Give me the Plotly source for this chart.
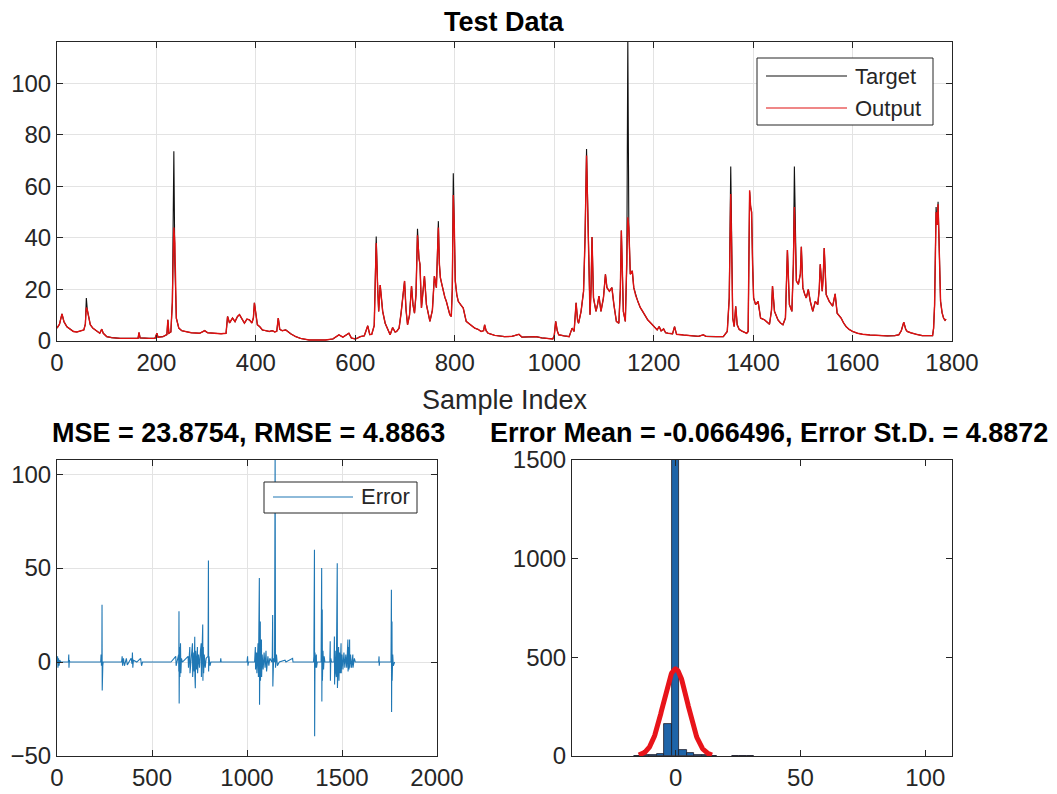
import numpy as np
import plotly.graph_objects as go

W, H = 1057, 794

# ---------------- test data: target vs network output ----------------
sample_idx = [
    0, 5, 10, 14, 20, 27, 33, 40, 47, 54,
    57, 59, 61, 63, 67, 72, 80, 86, 90, 93,
    100, 110, 127, 150, 163, 165, 167, 185, 197, 201,
    203, 213, 221, 223, 225, 229, 232, 235, 237, 240,
    245, 251, 257, 270, 287, 297, 303, 313, 330, 340,
    343, 347, 353, 358, 363, 367, 372, 377, 382, 387,
    392, 395, 397, 400, 403, 408, 413, 420, 427, 433,
    438, 442, 445, 448, 453, 460, 470, 480, 490, 507,
    525, 540, 555, 567, 575, 587, 592, 600, 605, 610,
    618, 625, 629, 633, 638, 642, 645, 647, 650, 653,
    655, 660, 665, 670, 675, 680, 683, 688, 692, 699,
    702, 705, 709, 713, 716, 719, 722, 725, 728, 730,
    733, 736, 739, 743, 747, 750, 755, 759, 763, 767,
    769, 771, 774, 777, 780, 783, 787, 790, 793, 795,
    797, 799, 801, 804, 807, 812, 817, 823, 830, 840,
    847, 853, 858, 860, 863, 867, 880, 900, 915, 929,
    935, 950, 963, 975, 990, 997, 1000, 1003, 1006, 1009,
    1020, 1030, 1036, 1040, 1044, 1047, 1049, 1054, 1059, 1062,
    1065, 1067, 1069, 1072, 1074, 1076, 1079, 1084, 1087, 1090,
    1094, 1099, 1103, 1106, 1111, 1116, 1120, 1125, 1130, 1133,
    1135, 1137, 1139, 1143, 1146, 1148, 1150, 1153, 1157, 1160,
    1164, 1168, 1173, 1178, 1183, 1188, 1194, 1199, 1204, 1207,
    1211, 1215, 1220, 1224, 1229, 1238, 1242, 1246, 1260, 1273,
    1290, 1300, 1305, 1326, 1340, 1348, 1352, 1355, 1357, 1359,
    1362, 1365, 1368, 1372, 1377, 1383, 1387, 1390, 1393, 1395,
    1397, 1399, 1401, 1405, 1410, 1415, 1423, 1433, 1437, 1439,
    1443, 1450, 1455, 1460, 1465, 1469, 1471, 1473, 1478, 1481,
    1483, 1485, 1487, 1491, 1495, 1497, 1500, 1504, 1507, 1511,
    1515, 1520, 1525, 1530, 1533, 1535, 1539, 1541, 1543, 1547,
    1553, 1560, 1565, 1569, 1577, 1582, 1587, 1593, 1600, 1610,
    1620, 1635, 1653, 1670, 1685, 1693, 1698, 1703, 1707, 1710,
    1717, 1723, 1730, 1740, 1750, 1761, 1763, 1765, 1768, 1770,
    1772, 1774, 1777, 1780, 1783, 1786, 1788,
]

target = [
    5.0, 6.5, 10.5, 7.5, 5.5, 4.6, 3.7, 3.5, 3.9, 4.3,
    6.5, 16.7, 12.0, 9.5, 6.3, 5.0, 3.7, 3.0, 4.6, 3.0,
    1.7, 1.3, 1.0, 1.0, 1.0, 3.3, 1.2, 1.0, 1.0, 3.0,
    1.5, 1.7, 2.5, 8.2, 3.0, 3.5, 15.0, 73.6, 30.0, 8.9,
    5.0, 4.0, 3.7, 3.2, 3.0, 4.0, 3.2, 3.0, 2.8, 3.0,
    9.5, 7.0, 8.9, 7.5, 9.5, 10.2, 8.5, 6.9, 8.5, 8.2,
    7.0, 9.0, 14.8, 9.5, 6.3, 5.5, 4.3, 4.0, 3.7, 4.0,
    3.5, 3.8, 8.9, 4.5, 4.0, 4.3, 2.8, 1.7, 1.0, 0.4,
    0.4, 0.4, 0.8, 2.4, 1.5, 3.0, 1.2, 0.8, 1.2, 1.7,
    2.0, 5.9, 2.5, 2.6, 6.0, 40.5, 20.0, 11.5, 21.7, 15.0,
    11.5, 6.9, 4.5, 2.4, 5.2, 3.5, 3.7, 5.0, 10.8, 23.3,
    12.0, 6.3, 10.0, 21.3, 14.0, 10.8, 18.0, 43.5, 32.0, 29.8,
    12.8, 18.0, 25.2, 14.1, 10.0, 7.6, 12.0, 25.2, 20.7, 46.5,
    30.0, 24.6, 22.0, 19.3, 17.0, 15.4, 12.0, 10.2, 9.5, 20.0,
    65.1, 40.0, 23.3, 18.0, 15.4, 14.0, 12.8, 7.6, 6.5, 5.0,
    4.5, 3.7, 4.0, 6.3, 4.0, 3.0, 2.2, 1.7, 1.8, 2.6,
    1.5, 1.5, 1.7, 1.2, 1.0, 0.8, 2.0, 7.6, 4.0, 2.4,
    2.0, 1.7, 5.0, 3.7, 14.8, 8.0, 6.9, 11.5, 19.3, 40.0,
    74.5, 55.0, 42.9, 10.2, 20.0, 40.3, 16.7, 11.5, 14.0, 17.4,
    11.5, 16.7, 25.9, 20.7, 19.3, 20.7, 14.1, 7.6, 6.9, 20.0,
    42.9, 25.0, 11.5, 7.6, 30.0, 118.0, 45.0, 25.9, 27.2, 20.7,
    17.5, 15.4, 13.0, 11.5, 9.8, 8.2, 7.0, 5.9, 4.8, 4.3,
    5.6, 3.9, 4.7, 3.2, 3.0, 2.8, 5.6, 2.6, 2.3, 2.1,
    1.8, 2.4, 1.8, 1.7, 1.7, 3.7, 16.7, 67.7, 30.0, 8.9,
    5.6, 13.5, 6.3, 4.5, 3.9, 3.3, 3.0, 3.7, 57.9, 52.0,
    50.0, 29.8, 16.7, 14.1, 15.4, 8.9, 8.2, 6.5, 12.0, 21.3,
    11.5, 8.2, 7.0, 6.3, 8.9, 35.3, 20.0, 14.1, 11.5, 30.0,
    67.7, 35.0, 23.3, 22.0, 26.0, 36.6, 20.7, 18.0, 16.7, 20.0,
    15.4, 11.5, 15.4, 14.1, 20.0, 29.8, 19.3, 25.0, 36.1, 18.0,
    15.4, 13.5, 18.3, 10.8, 8.9, 7.0, 5.6, 4.5, 3.7, 3.0,
    2.6, 2.3, 2.1, 2.0, 2.1, 2.4, 4.0, 7.3, 4.5, 3.7,
    3.2, 3.0, 2.5, 2.1, 2.0, 2.1, 5.0, 14.1, 52.0, 45.0,
    54.0, 35.0, 15.4, 11.0, 8.9, 8.0, 8.5,
]

output = [
    5.0, 6.5, 10.5, 7.5, 5.5, 4.6, 3.7, 3.5, 3.9, 4.3,
    6.5, 13.0, 12.0, 9.5, 6.3, 5.0, 3.7, 3.0, 4.6, 3.0,
    1.7, 1.3, 1.0, 1.0, 1.0, 3.3, 1.2, 1.0, 1.0, 3.0,
    1.5, 1.7, 2.5, 8.2, 3.0, 3.5, 15.0, 44.0, 38.0, 8.9,
    5.0, 4.0, 3.7, 3.2, 3.0, 4.0, 3.2, 3.0, 2.8, 3.0,
    9.5, 7.0, 8.9, 7.5, 9.5, 10.2, 8.5, 6.9, 8.5, 8.2,
    7.0, 9.0, 14.8, 9.5, 6.3, 5.5, 4.3, 4.0, 3.7, 4.0,
    3.5, 3.8, 8.9, 4.5, 4.0, 4.3, 2.8, 1.7, 1.0, 0.4,
    0.4, 0.4, 0.8, 2.4, 1.5, 3.0, 1.2, 0.8, 1.2, 1.7,
    2.0, 5.9, 2.5, 2.6, 6.0, 38.0, 20.0, 11.5, 21.7, 15.0,
    11.5, 6.9, 4.5, 2.4, 5.2, 3.5, 3.7, 5.0, 10.8, 23.3,
    12.0, 6.3, 10.0, 21.3, 14.0, 10.8, 18.0, 41.0, 32.0, 29.8,
    12.8, 18.0, 25.2, 14.1, 10.0, 7.6, 12.0, 25.2, 20.7, 44.0,
    30.0, 24.6, 22.0, 19.3, 17.0, 15.4, 12.0, 10.2, 9.5, 20.0,
    56.6, 45.0, 23.3, 18.0, 15.4, 14.0, 12.8, 7.6, 6.5, 5.0,
    4.5, 3.7, 4.0, 6.3, 4.0, 3.0, 2.2, 1.7, 1.8, 2.6,
    1.5, 1.5, 1.7, 1.2, 1.0, 0.8, 2.0, 7.6, 4.0, 2.4,
    2.0, 1.7, 5.0, 3.7, 14.8, 8.0, 6.9, 11.5, 19.3, 40.0,
    72.0, 55.0, 42.9, 10.2, 20.0, 40.3, 16.7, 11.5, 14.0, 17.4,
    11.5, 16.7, 25.9, 20.7, 19.3, 20.7, 14.1, 7.6, 6.9, 20.0,
    42.9, 25.0, 11.5, 7.6, 30.0, 48.0, 44.0, 25.9, 27.2, 20.7,
    17.5, 15.4, 13.0, 11.5, 9.8, 8.2, 7.0, 5.9, 4.8, 4.3,
    5.6, 3.9, 4.7, 3.2, 3.0, 2.8, 5.6, 2.6, 2.3, 2.1,
    1.8, 2.4, 1.8, 1.7, 1.7, 3.7, 16.7, 57.0, 35.0, 8.9,
    5.6, 13.5, 6.3, 4.5, 3.9, 3.3, 3.0, 3.7, 58.5, 52.0,
    50.0, 29.8, 16.7, 14.1, 15.4, 8.9, 8.2, 6.5, 12.0, 21.3,
    11.5, 8.2, 7.0, 6.3, 8.9, 35.3, 20.0, 14.1, 11.5, 30.0,
    52.0, 40.0, 23.3, 22.0, 26.0, 36.6, 20.7, 18.0, 16.7, 20.0,
    15.4, 11.5, 15.4, 14.1, 20.0, 29.8, 19.3, 25.0, 36.1, 18.0,
    15.4, 13.5, 18.3, 10.8, 8.9, 7.0, 5.6, 4.5, 3.7, 3.0,
    2.6, 2.3, 2.1, 2.0, 2.1, 2.4, 4.0, 7.3, 4.5, 3.7,
    3.2, 3.0, 2.5, 2.1, 2.0, 2.1, 5.0, 14.1, 50.0, 45.0,
    53.0, 35.0, 15.4, 11.0, 8.9, 8.0, 8.5,
]

# ---------------- prediction error per sample ----------------
err_idx = [
    0, 3, 5, 8, 11, 14, 20, 60, 62, 63, 65, 67, 200, 230, 232, 234, 236, 237, 238, 239,
    241, 243, 340, 343, 345, 350, 355, 365, 370, 390, 395, 397, 399, 402, 420, 440, 445, 450,
    600, 625, 627, 640, 641, 642, 643, 645, 647, 650, 652, 655, 660, 690, 692, 699, 700, 710,
    713, 714, 720, 722, 725, 726, 728, 730, 735, 739, 740, 745, 750, 755, 759, 760, 764, 767,
    768, 770, 772, 775, 780, 785, 795, 797, 798, 800, 805, 810, 860, 862, 864, 1000, 1003, 1005,
    1008, 1040, 1044, 1045, 1050, 1052, 1058, 1060, 1065, 1066, 1070, 1071, 1074, 1076, 1077,
    1080, 1085, 1090, 1095, 1100, 1103, 1110, 1115, 1120, 1130, 1133, 1135, 1136, 1140, 1145,
    1148, 1149, 1150, 1155, 1160, 1170, 1200, 1205, 1240, 1242, 1350, 1352, 1355, 1356, 1358,
    1360, 1362, 1365, 1366, 1370, 1390, 1393, 1394, 1396, 1397, 1400, 1403, 1406, 1410, 1436,
    1438, 1439, 1441, 1445, 1458, 1460, 1461, 1464, 1467, 1469, 1470, 1475, 1476, 1478, 1480,
    1482, 1484, 1487, 1490, 1495, 1496, 1500, 1505, 1510, 1515, 1520, 1525, 1531, 1532, 1535,
    1537, 1540, 1541, 1545, 1550, 1557, 1558, 1565, 1570, 1693, 1695, 1696, 1698, 1758, 1760,
    1761, 1763, 1764, 1767, 1770, 1777,
]

err_val = [
    0, 3, -3, 2, -2, 1, 0, 0, 4, -3, 1, 0, 0, 0, 4, -2, 0, 30.5, -15.2, 3,
    -2, 0, 0, 3, -2, 2, -2, 2, -1.5, 2, -1, 5, -3, 1, 0, 2, -2, 0,
    0, 3, -2, 4, -5, 27, -22, 8, -8, 10, -6, 2, 0, 3, -3, 8, -6, 4,
    10, -8, 5, -5, 13.5, -8, -14, 6, -4, 8, -6, 4, -3, 6, 10, -8, 6, 20,
    -10, 8, -6, 4, -3, 2, 3, 54, -5, 3, -2, 0, 0, 2, 0, 0, 3, -2,
    0, 0, 8, -4, 5, -6, 10, -8, 44.7, -22.7, 21.6, -10, 8, 12, -8,
    4, -4, 5, -3, 6, -5, 3, -2, 2, 0, 3, 25, -13, 2, 0,
    112, 8, -3, 4, -2, 0, 1, 0, 2, 0, 0, 3, 59.8, -39.5, 5,
    -3, 0, 4, -3, 0, 0, 50, -21, 28, -10, 6, -4, 3, 0, 0,
    11, -10, 2, 0, 0, 13.6, -12, 6, -5, 9, -8, 52.6, -13.8, 6, -12,
    8, -10, 5, -6, 10, -6, 4, -4, 5, -3, 4, -3, 12, -5, 8,
    -4, 12, -3, 4, -3, 4, -3, 2, 0, 0, 3, -2, 0, 0, 38.5,
    -26.6, 21.6, -10, 4, -2, 0,
]

# ---------------- error histogram (bin width 3) ----------------
bin_width = 3.0
hist_centers = [-15, -12, -9, -6, -3, 0, 3, 6, 9, 12, 15, 24, 27, 30]
hist_counts = [2, 3, 5, 12, 160, 1560, 30, 14, 6, 3, 2, 1, 2, 1]

mse = 23.8754
rmse = 4.8863
err_mean = -0.066496
err_std = 4.8872

assert len(sample_idx) == len(target) == len(output)
assert len(err_idx) == len(err_val)
assert len(hist_centers) == len(hist_counts)

# normal fit overlaid on the histogram (mean ± 3 std, scaled to counts)
fit_x = np.linspace(err_mean - 3 * err_std, err_mean + 3 * err_std, 161)
fit_scale = sum(hist_counts) * bin_width / (err_std * np.sqrt(2 * np.pi))
fit_y = fit_scale * np.exp(-0.5 * ((fit_x - err_mean) / err_std) ** 2)

# ---------------- styling ----------------
FONT = "Liberation Sans, Arial, Helvetica, sans-serif"
AX = "#262626"
GRID = "#e3e3e3"
TICK_SIZE = 24
LEGEND_SIZE = 22
TITLE_SIZE = 27
LABEL_SIZE = 27


def px_x(p):
    return p / W


def px_y(p):
    return 1 - p / H


def axis_style(**kw):
    base = dict(
        showline=True, linecolor=AX, linewidth=1, mirror="ticks",
        ticks="inside", ticklen=6, tickcolor=AX, tickwidth=1,
        showgrid=True, gridcolor=GRID, gridwidth=1, zeroline=False,
        automargin=False, fixedrange=True,
        tickfont=dict(family=FONT, size=TICK_SIZE, color=AX),
    )
    base.update(kw)
    return base


fig = go.Figure()

# top panel: target and output
fig.add_trace(go.Scatter(x=sample_idx, y=target, mode="lines", name="Target",
                         line=dict(color="#111111", width=1.1),
                         xaxis="x", yaxis="y"))
fig.add_trace(go.Scatter(x=sample_idx, y=output, mode="lines", name="Output",
                         line=dict(color="#e01010", width=1.4),
                         xaxis="x", yaxis="y"))

# bottom-left: error series
fig.add_trace(go.Scatter(x=err_idx, y=err_val, mode="lines", name="Error",
                         line=dict(color="#1f77b4", width=1.1),
                         xaxis="x2", yaxis="y2"))

# bottom-right: histogram with normal fit
fig.add_trace(go.Bar(x=hist_centers, y=hist_counts, width=bin_width,
                     marker=dict(color="#1e64a8", line=dict(color="#1a1a2a", width=0.8)),
                     xaxis="x3", yaxis="y3"))
fig.add_trace(go.Scatter(x=fit_x, y=fit_y, mode="lines",
                         line=dict(color="#e8141a", width=5),
                         xaxis="x3", yaxis="y3"))

top_x = [px_x(57), px_x(952)]
top_y = [px_y(341), px_y(42)]
bl_x = [px_x(57), px_x(437)]
br_x = [px_x(572), px_x(952)]
bot_y = [px_y(756), px_y(460)]

fig.update_layout(
    width=W, height=H,
    margin=dict(l=0, r=0, t=0, b=0),
    paper_bgcolor="white", plot_bgcolor="white",
    showlegend=False,
    bargap=0,
    font=dict(family=FONT, color=AX),
    xaxis=axis_style(domain=top_x, range=[0, 1800], tickvals=list(range(0, 1801, 200)), anchor="y"),
    yaxis=axis_style(domain=top_y, range=[0, 116], tickvals=list(range(0, 101, 20)), anchor="x"),
    xaxis2=axis_style(domain=bl_x, range=[0, 2000], tickvals=list(range(0, 2001, 500)), anchor="y2"),
    yaxis2=axis_style(domain=bot_y, range=[-50, 107.5], tickvals=[-50, 0, 50, 100], anchor="x2"),
    xaxis3=axis_style(domain=br_x, range=[-41.5, 110.7], tickvals=[0, 50, 100], anchor="y3",
                      showgrid=False),
    yaxis3=axis_style(domain=bot_y, range=[0, 1500], tickvals=[0, 500, 1000, 1500], anchor="x3",
                      showgrid=False),
)

# panel titles and x label
titles = [
    ("<b>Test Data</b>", (57 + 952) / 2, 22, TITLE_SIZE, "black"),
    (f"<b>MSE = {mse}, RMSE = {rmse}</b>", 248, 433, TITLE_SIZE, "black"),
    (f"<b>Error Mean = {err_mean}, Error St.D. = {err_std}</b>", 769, 433, TITLE_SIZE, "black"),
    ("Sample Index", (57 + 952) / 2, 400, LABEL_SIZE, AX),
]
for text, cx, cy, size, color in titles:
    fig.add_annotation(text=text, x=px_x(cx), y=px_y(cy), xref="paper", yref="paper",
                       showarrow=False, xanchor="center", yanchor="middle",
                       font=dict(family=FONT, size=size, color=color))


# legends drawn as boxed keys
def legend_box(x0, x1, y0, y1, entries):
    fig.add_shape(type="rect", xref="paper", yref="paper",
                  x0=px_x(x0), x1=px_x(x1), y0=px_y(y1), y1=px_y(y0),
                  line=dict(color=AX, width=1), fillcolor="white", layer="above")
    for label, color, ly, lx0, lx1 in entries:
        fig.add_shape(type="line", xref="paper", yref="paper",
                      x0=px_x(lx0), x1=px_x(lx1), y0=px_y(ly), y1=px_y(ly),
                      line=dict(color=color, width=1.2), layer="above")
        fig.add_annotation(text=label, x=px_x(lx1 + 6), y=px_y(ly), xref="paper", yref="paper",
                           showarrow=False, xanchor="left", yanchor="middle",
                           font=dict(family=FONT, size=LEGEND_SIZE, color=AX))


legend_box(757, 933, 58, 125, [("Target", "#111111", 76, 766, 847),
                               ("Output", "#e01010", 108, 766, 847)])
legend_box(264, 417, 482, 513, [("Error", "#1f77b4", 497, 273, 353)])

fig.write_html("out.html", config={"displayModeBar": False})
